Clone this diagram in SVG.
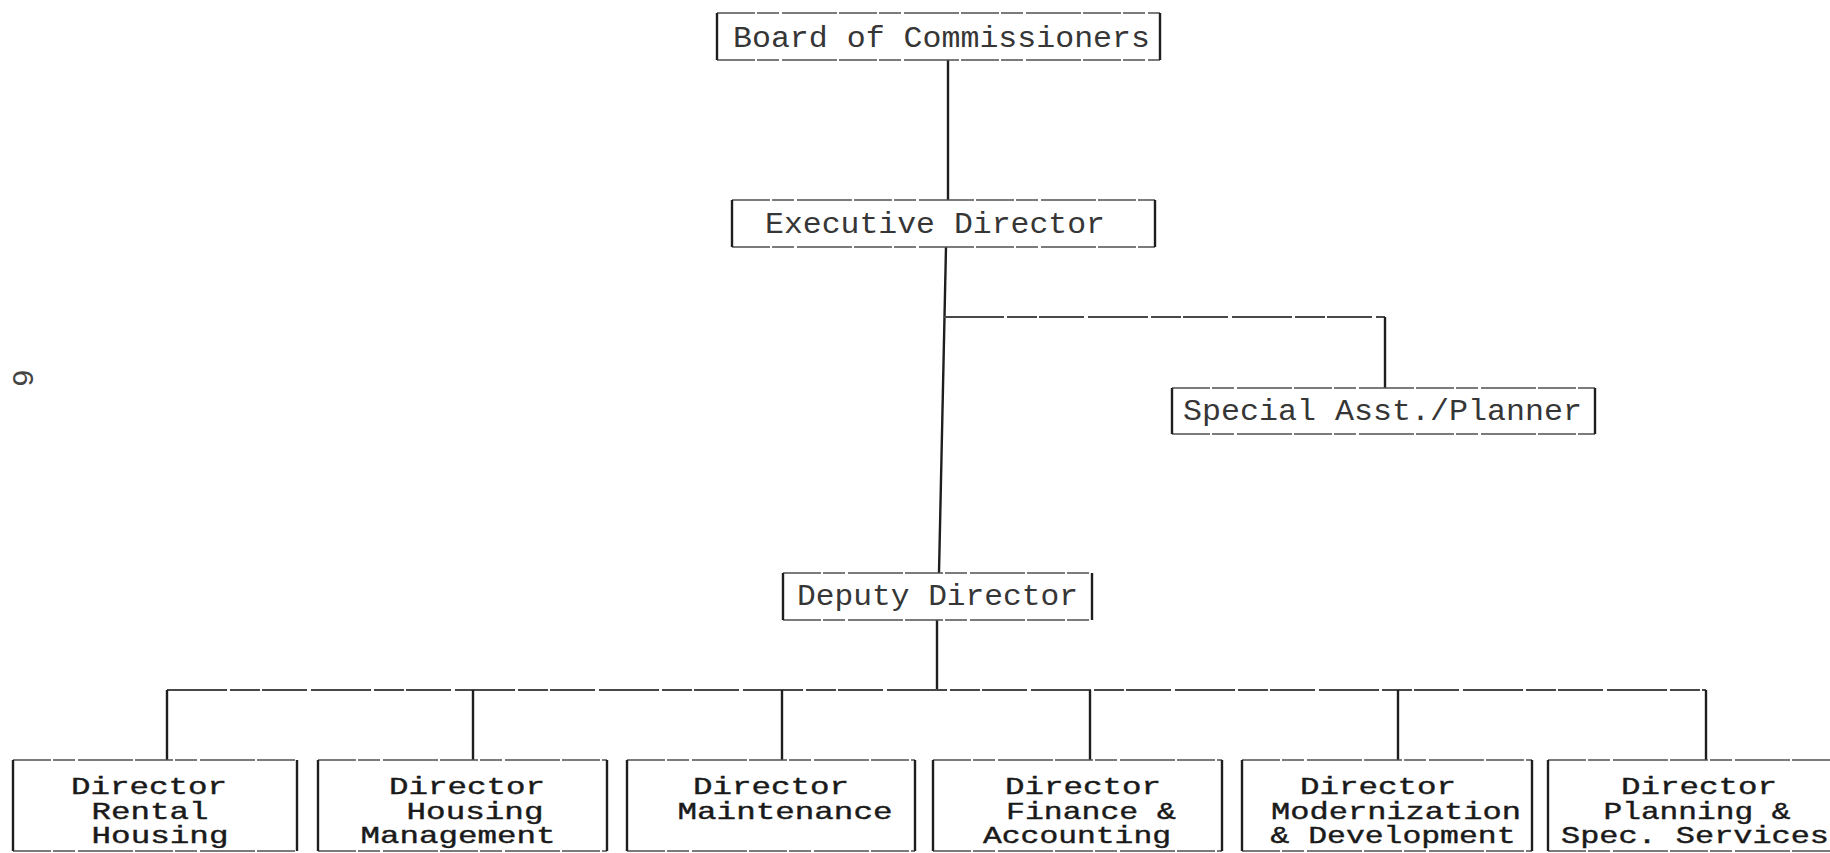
<svg xmlns="http://www.w3.org/2000/svg" width="1830" height="853" viewBox="0 0 1830 853">
<style>
.bg{fill:#ffffff}
.h{stroke:#505050;stroke-width:1.7;fill:none;stroke-dasharray:38 2 22 3 55 2}
.v{stroke:#1e1e1e;stroke-width:2.4;fill:none}
.c{stroke:#1e1e1e;stroke-width:2.4;fill:none}
.ch{stroke:#484848;stroke-width:1.8;fill:none;stroke-dasharray:60 3 30 2 45 4}
.t{font-family:"Liberation Mono","DejaVu Sans Mono",monospace;font-size:30px;fill:#363636}
.b{font-family:"Liberation Mono","DejaVu Sans Mono",monospace;font-size:24px;fill:#1a1a1a;text-anchor:middle;stroke:#1a1a1a;stroke-width:0.4}
.pg{font-family:"Liberation Sans",Arial,sans-serif;font-size:30px;fill:#444}
</style>
<rect class="bg" x="0" y="0" width="1830" height="853"/>

<g id="connectors">
<line class="c" x1="948" y1="60" x2="948" y2="200"/>
<line class="c" x1="946" y1="247" x2="939" y2="573"/>
<line class="ch" x1="944" y1="317" x2="1385" y2="317"/>
<line class="c" x1="1385" y1="317" x2="1385" y2="388"/>
<line class="c" x1="937" y1="620" x2="937" y2="690"/>
<line class="ch" x1="167" y1="690" x2="1706" y2="690"/>
<line class="c" x1="167" y1="690" x2="167" y2="760"/>
<line class="c" x1="473" y1="690" x2="473" y2="760"/>
<line class="c" x1="782" y1="690" x2="782" y2="760"/>
<line class="c" x1="1090" y1="690" x2="1090" y2="760"/>
<line class="c" x1="1398" y1="690" x2="1398" y2="760"/>
<line class="c" x1="1706" y1="690" x2="1706" y2="760"/>
</g>

<g id="board">
<line class="h" x1="717" y1="13" x2="1160" y2="13"/>
<line class="h" x1="717" y1="60" x2="1160" y2="60"/>
<line class="v" x1="717" y1="13" x2="717" y2="60"/>
<line class="v" x1="1160" y1="13" x2="1160" y2="60"/>
<text class="t" x="733" y="47" textLength="417" lengthAdjust="spacingAndGlyphs">Board of Commissioners</text>
</g>

<g id="executive">
<line class="h" x1="732" y1="200" x2="1155" y2="200"/>
<line class="h" x1="732" y1="247" x2="1155" y2="247"/>
<line class="v" x1="732" y1="200" x2="732" y2="247"/>
<line class="v" x1="1155" y1="200" x2="1155" y2="247"/>
<text class="t" x="765" y="233" textLength="340" lengthAdjust="spacingAndGlyphs">Executive Director</text>
</g>

<g id="special">
<line class="h" x1="1172" y1="388" x2="1595" y2="388"/>
<line class="h" x1="1172" y1="434" x2="1595" y2="434"/>
<line class="v" x1="1172" y1="388" x2="1172" y2="434"/>
<line class="v" x1="1595" y1="388" x2="1595" y2="434"/>
<text class="t" x="1183" y="420" textLength="399" lengthAdjust="spacingAndGlyphs">Special Asst./Planner</text>
</g>

<g id="deputy">
<line class="h" x1="783" y1="573" x2="1092" y2="573"/>
<line class="h" x1="783" y1="620" x2="1092" y2="620"/>
<line class="v" x1="783" y1="573" x2="783" y2="620"/>
<line class="v" x1="1092" y1="573" x2="1092" y2="620"/>
<text class="t" x="797" y="605" textLength="281" lengthAdjust="spacingAndGlyphs">Deputy Director</text>
</g>

<g id="rental">
<line class="h" x1="13" y1="760" x2="297" y2="760"/>
<line class="h" x1="13" y1="851" x2="297" y2="851"/>
<line class="v" x1="13" y1="760" x2="13" y2="851"/>
<line class="v" x1="297" y1="760" x2="297" y2="851"/>
<text class="b" x="149" y="794" textLength="156" lengthAdjust="spacingAndGlyphs">Director</text>
<text class="b" x="150" y="819" textLength="117" lengthAdjust="spacingAndGlyphs">Rental</text>
<text class="b" x="160" y="843" textLength="137" lengthAdjust="spacingAndGlyphs">Housing</text>
</g>

<g id="housing-mgmt">
<line class="h" x1="318" y1="760" x2="607" y2="760"/>
<line class="h" x1="318" y1="851" x2="607" y2="851"/>
<line class="v" x1="318" y1="760" x2="318" y2="851"/>
<line class="v" x1="607" y1="760" x2="607" y2="851"/>
<text class="b" x="467" y="794" textLength="156" lengthAdjust="spacingAndGlyphs">Director</text>
<text class="b" x="475" y="819" textLength="137" lengthAdjust="spacingAndGlyphs">Housing</text>
<text class="b" x="458" y="843" textLength="195" lengthAdjust="spacingAndGlyphs">Management</text>
</g>

<g id="maintenance">
<line class="h" x1="627" y1="760" x2="915" y2="760"/>
<line class="h" x1="627" y1="851" x2="915" y2="851"/>
<line class="v" x1="627" y1="760" x2="627" y2="851"/>
<line class="v" x1="915" y1="760" x2="915" y2="851"/>
<text class="b" x="771" y="794" textLength="156" lengthAdjust="spacingAndGlyphs">Director</text>
<text class="b" x="785" y="819" textLength="215" lengthAdjust="spacingAndGlyphs">Maintenance</text>
</g>

<g id="finance">
<line class="h" x1="933" y1="760" x2="1222" y2="760"/>
<line class="h" x1="933" y1="851" x2="1222" y2="851"/>
<line class="v" x1="933" y1="760" x2="933" y2="851"/>
<line class="v" x1="1222" y1="760" x2="1222" y2="851"/>
<text class="b" x="1083" y="794" textLength="156" lengthAdjust="spacingAndGlyphs">Director</text>
<text class="b" x="1091" y="819" textLength="170" lengthAdjust="spacingAndGlyphs">Finance &amp;</text>
<text class="b" x="1077" y="843" textLength="188" lengthAdjust="spacingAndGlyphs">Accounting</text>
</g>

<g id="modernization">
<line class="h" x1="1242" y1="760" x2="1532" y2="760"/>
<line class="h" x1="1242" y1="851" x2="1532" y2="851"/>
<line class="v" x1="1242" y1="760" x2="1242" y2="851"/>
<line class="v" x1="1532" y1="760" x2="1532" y2="851"/>
<text class="b" x="1378" y="794" textLength="156" lengthAdjust="spacingAndGlyphs">Director</text>
<text class="b" x="1396" y="819" textLength="250" lengthAdjust="spacingAndGlyphs">Modernization</text>
<text class="b" x="1393" y="843" textLength="245" lengthAdjust="spacingAndGlyphs">&amp; Development</text>
</g>

<g id="planning">
<line class="h" x1="1548" y1="760" x2="1830" y2="760"/>
<line class="h" x1="1548" y1="851" x2="1830" y2="851"/>
<line class="v" x1="1548" y1="760" x2="1548" y2="851"/>
<text class="b" x="1699" y="794" textLength="156" lengthAdjust="spacingAndGlyphs">Director</text>
<text class="b" x="1697" y="819" textLength="187" lengthAdjust="spacingAndGlyphs">Planning &amp;</text>
<text class="b" x="1695" y="843" textLength="268" lengthAdjust="spacingAndGlyphs">Spec. Services</text>
</g>

<text class="pg" x="0" y="0" text-anchor="middle" dominant-baseline="central" transform="translate(23,378) rotate(90)">6</text>
</svg>
